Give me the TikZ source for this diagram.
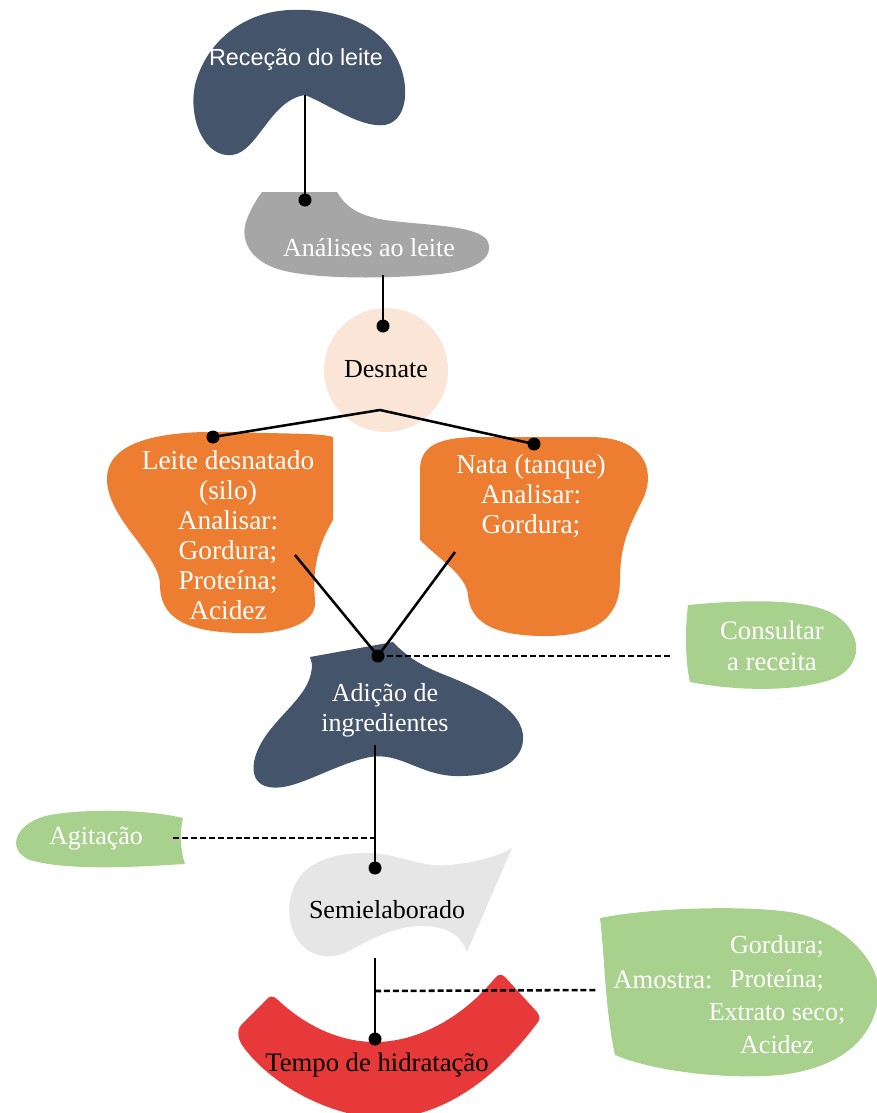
\documentclass[tikz,border=0pt]{standalone}
\usepackage{fontspec}
\setmainfont{Liberation Serif}
\newfontfamily\recfont{Liberation Sans}

\tikzset{every picture/.style={line width=0.75pt}}
\tikzset{
  navy/.style={fill={rgb, 255:red, 68; green, 84; blue, 106 }, draw=none},
  orangeblob/.style={fill={rgb, 255:red, 237; green, 125; blue, 49 }, draw=none},
  greenblob/.style={fill={rgb, 255:red, 169; green, 209; blue, 142 }, draw=none},
  link/.style={line width=1.9pt},
  dashlink/.style={line width=1.9pt, dash pattern=on 4.5pt off 2.2pt},
  lbl/.style={inner sep=0pt, align=center, font=\fontsize{19.5}{22.5}\selectfont},
  biglbl/.style={lbl, font=\fontsize{20.5}{22.5}\selectfont},
}

\begin{document}
\begin{tikzpicture}[x=0.75pt,y=0.75pt,yscale=-1,xscale=1]
	\useasboundingbox (0,0) rectangle (876,1113);

	%Shape: Receção do leite
	\draw [navy] (305,95) .. controls (330,105) and (360,128) .. (385,125) .. controls (410,120) and (410,80) .. (395,55) .. controls (375,20) and (330,8) .. (290,10) .. controls (240,12) and (205,45) .. (195,85) .. controls (188,120) and (205,158) .. (232,155) .. controls (258,152) and (270,100) .. (305,95) -- cycle ;
	%Shape: Análises ao leite
	\draw [fill={rgb, 255:red, 166; green, 166; blue, 166 }, draw=none] (262,192) -- (337,192) .. controls (345,205) and (355,215) .. (385,220) .. controls (430,226) and (475,225) .. (487,240) .. controls (495,255) and (480,270) .. (440,274) .. controls (400,278) and (330,280) .. (290,272) .. controls (250,265) and (240,240) .. (246,222) .. controls (250,210) and (256,200) .. (262,192) -- cycle ;
	%Shape: Desnate
	\draw [fill={rgb, 255:red, 251; green, 229; blue, 214 }, draw=none] (386,370) circle [x radius= 62, y radius= 62] ;
	%Shape: Leite desnatado
	\draw [orangeblob] (333,437) -- (333,520) .. controls (318,545) and (312,570) .. (315,600) .. controls (318,625) and (280,635) .. (240,633) .. controls (190,632) and (160,620) .. (160,585) .. controls (160,555) and (108,520) .. (107,480) .. controls (106,445) and (150,430) .. (230,432) .. controls (290,434) and (320,433) .. (333,437) -- cycle ;
	%Shape: Nata
	\draw [orangeblob] (420,540) -- (420,470) .. controls (420,445) and (440,437) .. (480,437) -- (590,437) .. controls (645,437) and (655,470) .. (644,497) .. controls (632,522) and (620,540) .. (620,580) .. controls (620,625) and (585,637) .. (540,636) .. controls (490,635) and (470,620) .. (468,595) .. controls (466,575) and (440,560) .. (420,540) -- cycle ;
	%Shape: Adição de ingredientes
	\draw [navy] (310,657) -- (312,664) .. controls (312,690) and (290,705) .. (270,730) .. controls (250,755) and (248,780) .. (265,786) .. controls (290,795) and (330,765) .. (370,757) .. controls (400,752) and (420,775) .. (455,776) .. controls (500,777) and (525,760) .. (523,735) .. controls (520,705) and (470,685) .. (440,673) .. controls (420,665) and (405,655) .. (393,642) -- cycle ;
	%Shape: Consultar a receita
	\draw [greenblob] (688,605) .. controls (740,600) and (800,598) .. (830,612) .. controls (865,630) and (865,668) .. (830,680) .. controls (790,693) and (730,690) .. (690,682) .. controls (685,660) and (685,630) .. (688,605) -- cycle ;
	%Shape: Agitação
	\draw [greenblob] (183,818) .. controls (150,810) and (90,808) .. (50,815) .. controls (15,822) and (5,850) .. (30,860) .. controls (70,872) and (150,866) .. (185,864) .. controls (180,850) and (180,830) .. (183,818) -- cycle ;
	%Shape: Semielaborado
	\draw [fill={rgb, 255:red, 231; green, 230; blue, 230 }, draw=none] (293,890) .. controls (300,865) and (330,852) .. (370,853) .. controls (400,854) and (420,868) .. (450,865) .. controls (480,862) and (500,855) .. (512,848) -- (467,952) .. controls (460,935) and (450,928) .. (425,926) .. controls (395,925) and (370,940) .. (345,953) .. controls (320,963) and (295,950) .. (290,920) .. controls (288,905) and (290,897) .. (293,890) -- cycle ;
	%Shape: Tempo de hidratação
	\draw [fill={rgb, 255:red, 232; green, 57; blue, 58 }, draw=none] (278,1000) .. controls (310,1030) and (345,1042) .. (375,1042) .. controls (420,1042) and (465,1015) .. (495,978) .. controls (498,974) and (502,974) .. (505,977) -- (537,1012) .. controls (540,1016) and (540,1020) .. (538,1022) .. controls (480,1100) and (420,1120) .. (380,1118) .. controls (330,1116) and (270,1085) .. (242,1045) .. controls (236,1035) and (238,1028) .. (242,1024) -- (268,998) .. controls (271,995) and (275,997) .. (278,1000) -- cycle ;
	%Shape: Amostra
	\draw [greenblob] (600,918) .. controls (650,908) and (740,905) .. (790,912) .. controls (850,922) and (885,970) .. (878,1000) .. controls (872,1040) and (840,1068) .. (780,1075) .. controls (720,1080) and (650,1070) .. (615,1055) .. controls (605,1010) and (605,960) .. (600,918) -- cycle ;

	% Connection points
	\coordinate (recOut) at (305,95);
	\coordinate (anaDot) at (305,200);
	\coordinate (anaOut) at (383,275);
	\coordinate (desDot) at (383,326);
	\coordinate (desOut) at (380,410);
	\coordinate (leiteDot) at (213,437);
	\coordinate (nataDot) at (534,444);
	\coordinate (leiteOut) at (295,555);
	\coordinate (nataOut) at (455,552);
	\coordinate (adiDot) at (378,656);
	\coordinate (consIn) at (672,656);
	\coordinate (adiOut) at (375,745);
	\coordinate (agiJoin) at (375,838);
	\coordinate (agiIn) at (173,838);
	\coordinate (semiDot) at (375,868);
	\coordinate (semiOut) at (375,958);
	\coordinate (amoJoin) at (375,991);
	\coordinate (amoIn) at (598,990);
	\coordinate (tempoDot) at (375,1039);

	%Straight Lines
	\draw [link] (recOut) -- (anaDot) ;
	\draw [link] (anaOut) -- (desDot) ;
	\draw [link] (leiteDot) -- (desOut) -- (nataDot) ;
	\draw [link] (leiteOut) -- (adiDot) -- (nataOut) ;
	\draw [dashlink] (adiDot) -- (consIn) ;
	\draw [link] (adiOut) -- (semiDot) ;
	\draw [dashlink] (agiIn) -- (agiJoin) ;
	\draw [link] (semiOut) -- (tempoDot) ;
	\draw [dashlink] (amoJoin) -- (amoIn) ;
	%Dots
	\foreach \d in {anaDot,desDot,leiteDot,nataDot,adiDot,semiDot,tempoDot}
		\fill (\d) circle [radius=6.5] ;

	% Text Node
	\node [lbl, white, font=\recfont\fontsize{17.5}{21}\selectfont] (recText) at (296,60) {Receção do leite};
	% Text Node
	\node [lbl, white] (anaText) at (369,248) {Análises ao leite};
	% Text Node
	\node [lbl] (desText) at (386,369) {Desnate};
	% Text Node
	\node [biglbl, white] (leiteText) at (228,535) {Leite desnatado\\(silo)\\Analisar:\\Gordura;\\Proteína;\\Acidez};
	% Text Node
	\node [biglbl, white] (nataText) at (531,496) {Nata (tanque)\\Analisar:\\Gordura;};
	% Text Node
	\node [lbl, white] (adiText) at (385,710) {Adição de\\ingredientes};
	% Text Node
	\node [lbl, white, font=\fontsize{20}{23.2}\selectfont] (consText) at (772,646) {Consultar\\a receita};
	% Text Node
	\node [lbl, white] (agiText) at (96,839) {Agitação};
	% Text Node
	\node [lbl] (semiText) at (387,910) {Semielaborado};
	% Text Node
	\node [lbl, font=\fontsize{20}{22.5}\selectfont] (tempoText) at (377,1065) {Tempo de hidratação};
	% Text Node
	\node [lbl, white, font=\fontsize{20}{22.5}\selectfont] (amoText) at (663,980) {Amostra:};
	% Text Node
	\node [lbl, white, font=\fontsize{19.5}{25}\selectfont] (amoList) at (777,995) {Gordura;\\Proteína;\\Extrato seco;\\Acidez};

\end{tikzpicture}
\end{document}
